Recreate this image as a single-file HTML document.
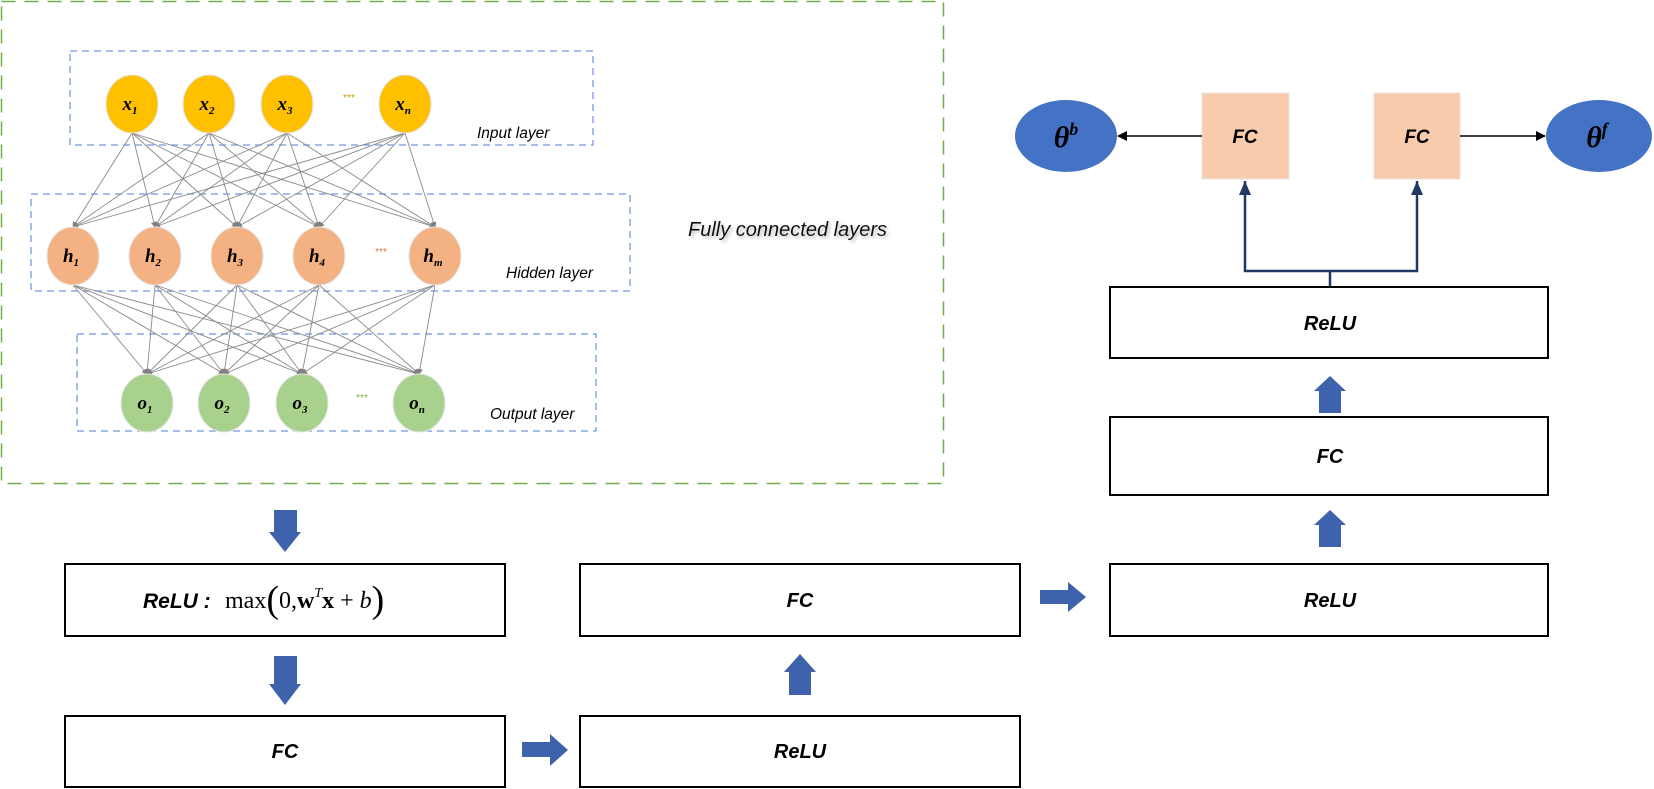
<!DOCTYPE html>
<html><head><meta charset="utf-8"><style>
html,body{margin:0;padding:0;background:#fff;}
svg{display:block;}
.t{font-family:"Liberation Sans",sans-serif;font-weight:bold;font-style:italic;}
.m{font-family:"Liberation Serif",serif;font-style:italic;font-weight:bold;}
</style></head><body>
<svg width="1654" height="789" viewBox="0 0 1654 789" xmlns="http://www.w3.org/2000/svg">
<defs>
<marker id="g" markerWidth="6" markerHeight="6" refX="5" refY="3" orient="auto" markerUnits="userSpaceOnUse"><path d="M0,0 L6,3 L0,6 z" fill="#808080"/></marker>
<marker id="k" markerWidth="10" markerHeight="10" refX="9" refY="5" orient="auto" markerUnits="userSpaceOnUse"><path d="M0,0 L10,5 L0,10 z" fill="#000"/></marker>
<filter id="sh"><feDropShadow dx="2" dy="2" stdDeviation="1.5" flood-color="#999" flood-opacity="0.7"/></filter>
</defs>

<rect x="1.5" y="1.5" width="942" height="482" fill="none" stroke="#70ad47" stroke-width="1.5" stroke-dasharray="14,9"/>
<rect x="70" y="51" width="523" height="94" fill="none" stroke="#6f97e0" stroke-width="1.3" stroke-dasharray="7,5"/>
<rect x="31" y="194" width="599" height="97" fill="none" stroke="#6f97e0" stroke-width="1.3" stroke-dasharray="7,5"/>
<rect x="77" y="334" width="519" height="97" fill="none" stroke="#6f97e0" stroke-width="1.3" stroke-dasharray="7,5"/>

<g stroke="#8a8a8a" stroke-width="0.9" marker-end="url(#g)">
<line x1="132" y1="133" x2="73" y2="227"/><line x1="132" y1="133" x2="155" y2="227"/><line x1="132" y1="133" x2="237" y2="227"/><line x1="132" y1="133" x2="319" y2="227"/><line x1="132" y1="133" x2="435" y2="227"/>
<line x1="209" y1="133" x2="73" y2="227"/><line x1="209" y1="133" x2="155" y2="227"/><line x1="209" y1="133" x2="237" y2="227"/><line x1="209" y1="133" x2="319" y2="227"/><line x1="209" y1="133" x2="435" y2="227"/>
<line x1="287" y1="133" x2="73" y2="227"/><line x1="287" y1="133" x2="155" y2="227"/><line x1="287" y1="133" x2="237" y2="227"/><line x1="287" y1="133" x2="319" y2="227"/><line x1="287" y1="133" x2="435" y2="227"/>
<line x1="405" y1="133" x2="73" y2="227"/><line x1="405" y1="133" x2="155" y2="227"/><line x1="405" y1="133" x2="237" y2="227"/><line x1="405" y1="133" x2="319" y2="227"/><line x1="405" y1="133" x2="435" y2="227"/>
<line x1="73" y1="285" x2="147" y2="374"/><line x1="73" y1="285" x2="224" y2="374"/><line x1="73" y1="285" x2="302" y2="374"/><line x1="73" y1="285" x2="419" y2="374"/>
<line x1="155" y1="285" x2="147" y2="374"/><line x1="155" y1="285" x2="224" y2="374"/><line x1="155" y1="285" x2="302" y2="374"/><line x1="155" y1="285" x2="419" y2="374"/>
<line x1="237" y1="285" x2="147" y2="374"/><line x1="237" y1="285" x2="224" y2="374"/><line x1="237" y1="285" x2="302" y2="374"/><line x1="237" y1="285" x2="419" y2="374"/>
<line x1="319" y1="285" x2="147" y2="374"/><line x1="319" y1="285" x2="224" y2="374"/><line x1="319" y1="285" x2="302" y2="374"/><line x1="319" y1="285" x2="419" y2="374"/>
<line x1="435" y1="285" x2="147" y2="374"/><line x1="435" y1="285" x2="224" y2="374"/><line x1="435" y1="285" x2="302" y2="374"/><line x1="435" y1="285" x2="419" y2="374"/>
</g>

<g fill="#ffc000" stroke="#e6e6e6" stroke-width="1">
<ellipse cx="132" cy="104" rx="26" ry="29"/><ellipse cx="209" cy="104" rx="26" ry="29"/><ellipse cx="287" cy="104" rx="26" ry="29"/><ellipse cx="405" cy="104" rx="26" ry="29"/>
</g>
<g fill="#f4b183" stroke="#e6e6e6" stroke-width="1">
<ellipse cx="73" cy="256" rx="26" ry="29"/><ellipse cx="155" cy="256" rx="26" ry="29"/><ellipse cx="237" cy="256" rx="26" ry="29"/><ellipse cx="319" cy="256" rx="26" ry="29"/><ellipse cx="435" cy="256" rx="26" ry="29"/>
</g>
<g fill="#a9d18e" stroke="#e6e6e6" stroke-width="1">
<ellipse cx="147" cy="403" rx="26" ry="29"/><ellipse cx="224" cy="403" rx="26" ry="29"/><ellipse cx="302" cy="403" rx="26" ry="29"/><ellipse cx="419" cy="403" rx="26" ry="29"/>
</g>
<g class="m" font-size="19" text-anchor="middle">
<text x="130" y="110">x<tspan font-size="11" dy="4">1</tspan></text>
<text x="207" y="110">x<tspan font-size="11" dy="4">2</tspan></text>
<text x="285" y="110">x<tspan font-size="11" dy="4">3</tspan></text>
<text x="403" y="110">x<tspan font-size="11" dy="4">n</tspan></text>
<text x="71" y="262">h<tspan font-size="11" dy="4">1</tspan></text>
<text x="153" y="262">h<tspan font-size="11" dy="4">2</tspan></text>
<text x="235" y="262">h<tspan font-size="11" dy="4">3</tspan></text>
<text x="317" y="262">h<tspan font-size="11" dy="4">4</tspan></text>
<text x="433" y="262">h<tspan font-size="11" dy="4">m</tspan></text>
<text x="145" y="409">o<tspan font-size="11" dy="4">1</tspan></text>
<text x="222" y="409">o<tspan font-size="11" dy="4">2</tspan></text>
<text x="300" y="409">o<tspan font-size="11" dy="4">3</tspan></text>
<text x="417" y="409">o<tspan font-size="11" dy="4">n</tspan></text>
</g>
<text x="349" y="101" font-size="10" fill="#c59a00" text-anchor="middle" font-family="Liberation Sans,sans-serif">***</text>
<text x="381" y="255" font-size="10" fill="#d07a40" text-anchor="middle" font-family="Liberation Sans,sans-serif">***</text>
<text x="362" y="401" font-size="10" fill="#70ad47" text-anchor="middle" font-family="Liberation Sans,sans-serif">***</text>

<g font-family="Liberation Sans,sans-serif" font-style="italic" font-size="15.5" fill="#000">
<text x="477" y="138">Input layer</text>
<text x="506" y="278">Hidden layer</text>
<text x="490" y="419">Output layer</text>
</g>
<text x="688" y="236" font-family="Liberation Sans,sans-serif" font-style="italic" font-size="20" fill="#111" filter="url(#sh)">Fully connected layers</text>

<ellipse cx="1066" cy="136" rx="51" ry="36" fill="#4472c4"/>
<text x="1066" y="147" class="m" font-weight="normal" font-size="30" text-anchor="middle" fill="#000">θ<tspan font-size="18" dy="-12">b</tspan></text>
<ellipse cx="1599" cy="136" rx="53" ry="36" fill="#4472c4"/>
<text x="1597" y="147" class="m" font-weight="normal" font-size="30" text-anchor="middle" fill="#000">θ<tspan font-size="18" dy="-12">f</tspan></text>
<rect x="1202" y="93" width="87" height="86" fill="#f8cbad" stroke="#e8e0da"/>
<rect x="1374" y="93" width="86" height="86" fill="#f8cbad" stroke="#e8e0da"/>
<g class="t" font-size="19" text-anchor="middle">
<text x="1245" y="143">FC</text><text x="1417" y="143">FC</text>
</g>
<line x1="1202" y1="136" x2="1118" y2="136" stroke="#000" stroke-width="1.6" marker-end="url(#k)"/>
<line x1="1460" y1="136" x2="1545" y2="136" stroke="#000" stroke-width="1.6" marker-end="url(#k)"/>
<path d="M1330,287 V271 M1245,181 V271 H1417 V181" fill="none" stroke="#1f3864" stroke-width="2.5"/>
<path d="M1239,195 L1245,181 L1251,195 z M1411,195 L1417,181 L1423,195 z" fill="#1f3864"/>

<g fill="#fff" stroke="#000" stroke-width="2">
<rect x="1110" y="287" width="438" height="71"/>
<rect x="1110" y="417" width="438" height="78"/>
<rect x="1110" y="564" width="438" height="72"/>
<rect x="65" y="564" width="440" height="72"/>
<rect x="580" y="564" width="440" height="72"/>
<rect x="65" y="716" width="440" height="71"/>
<rect x="580" y="716" width="440" height="71"/>
</g>
<g class="t" font-size="20" text-anchor="middle">
<text x="1330" y="330">ReLU</text>
<text x="1330" y="463">FC</text>
<text x="1330" y="607">ReLU</text>
<text x="800" y="607">FC</text>
<text x="285" y="758">FC</text>
<text x="800" y="758">ReLU</text>
</g>
<text x="143" y="608" class="t" font-size="21">ReLU :</text>
<text x="225" y="608" font-family="Liberation Serif,serif" font-size="24">max<tspan font-size="38" dy="4">(</tspan><tspan dy="-4">0,</tspan><tspan font-weight="bold">w</tspan><tspan font-style="italic" font-size="14" dy="-11">T</tspan><tspan font-weight="bold" dy="11">x</tspan> + <tspan font-style="italic">b</tspan><tspan font-size="38" dy="4">)</tspan></text>

<g fill="#3f62ad">
<path d="M274,510 H297 V532 H301 L285,552 L269,532 H274 z"/>
<path d="M274,656 H297 V684 H301 L285,705 L269,684 H274 z"/>
<path d="M789,695 H811 V672 H816 L800,654 L784,672 H789 z"/>
<path d="M522,742 H550 V734 L568,750 L550,766 V757 H522 z"/>
<path d="M1040,590 H1068 V582 L1086,597 L1068,612 V604 H1040 z"/>
<path d="M1319,413 H1341 V391 H1346 L1330,376 L1314,391 H1319 z"/>
<path d="M1319,547 H1341 V525 H1346 L1330,510 L1314,525 H1319 z"/>
</g>
</svg>
</body></html>
